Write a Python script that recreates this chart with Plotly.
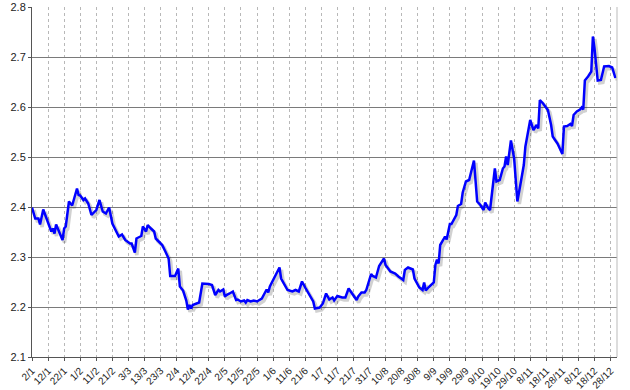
import pandas as pd
import plotly.graph_objects as go

# Day offsets from 2 January and the matching values
day_offsets = [0, 2, 4, 5, 7, 10, 12, 13, 14, 15, 17, 19, 20, 21, 23, 25, 28, 29, 30, 32,
               33, 35, 37, 40, 42, 44, 46, 48, 50, 54, 56, 58, 61, 62, 64, 65, 68, 69, 71, 72,
               74, 76, 77, 79, 81, 83, 85, 86, 89, 91, 92, 94, 96, 97, 98, 99, 100, 104, 106, 110,
               112, 114, 116, 117, 119, 120, 121, 123, 125, 127, 128, 130, 132, 133, 134, 136, 138, 140, 142, 143,
               146, 147, 148, 150, 152, 154, 155, 157, 159, 162, 164, 166, 168, 170, 172, 175, 176, 179, 181, 183,
               185, 187, 188, 190, 193, 195, 197, 199, 202, 203, 205, 207, 208, 211, 212, 214, 216, 219, 220, 223,
               226, 228, 231, 232, 234, 237, 238, 241, 243, 244, 245, 247, 250, 251, 252, 253, 254, 256, 257, 258,
               260, 261, 264, 265, 267, 268, 270, 272, 275, 277, 279, 281, 282, 284, 285, 288, 289, 291, 293, 294,
               295, 296, 298, 300, 302, 304, 306, 307, 308, 310, 312, 314, 315, 316, 318, 321, 323, 324, 327, 330,
               331, 333, 335, 336, 337, 339, 341, 342, 343, 344, 346, 348, 349, 350, 352, 354, 356, 359, 361, 363]
values = [2.399, 2.377, 2.377, 2.365, 2.395, 2.367, 2.351, 2.357, 2.347, 2.365, 2.351, 2.334, 2.357, 2.361, 2.411, 2.403, 2.437, 2.424, 2.423, 2.414,
          2.417, 2.407, 2.384, 2.394, 2.414, 2.391, 2.387, 2.399, 2.367, 2.341, 2.345, 2.334, 2.327, 2.327, 2.309, 2.337, 2.342, 2.361, 2.351, 2.364,
          2.357, 2.351, 2.337, 2.331, 2.324, 2.311, 2.297, 2.262, 2.262, 2.277, 2.241, 2.233, 2.213, 2.195, 2.204, 2.197, 2.204, 2.209, 2.247, 2.246,
          2.244, 2.224, 2.234, 2.231, 2.235, 2.221, 2.224, 2.227, 2.231, 2.214, 2.215, 2.211, 2.213, 2.209, 2.214, 2.211, 2.213, 2.211, 2.215, 2.217,
          2.235, 2.229, 2.241, 2.254, 2.264, 2.279, 2.257, 2.244, 2.234, 2.231, 2.234, 2.231, 2.251, 2.239, 2.227, 2.211, 2.197, 2.199, 2.207, 2.227,
          2.215, 2.219, 2.213, 2.222, 2.219, 2.219, 2.237, 2.227, 2.214, 2.221, 2.229, 2.229, 2.234, 2.266, 2.262, 2.259, 2.282, 2.297, 2.284, 2.271,
          2.267, 2.261, 2.254, 2.274, 2.279, 2.275, 2.257, 2.239, 2.234, 2.249, 2.233, 2.240, 2.249, 2.284, 2.295, 2.287, 2.324, 2.335, 2.341, 2.335,
          2.366, 2.366, 2.384, 2.402, 2.406, 2.429, 2.451, 2.454, 2.493, 2.411, 2.404, 2.394, 2.409, 2.397, 2.394, 2.477, 2.451, 2.454, 2.477, 2.481,
          2.501, 2.484, 2.533, 2.497, 2.411, 2.447, 2.484, 2.521, 2.537, 2.574, 2.554, 2.564, 2.557, 2.614, 2.607, 2.594, 2.564, 2.541, 2.527, 2.506,
          2.561, 2.562, 2.566, 2.562, 2.584, 2.591, 2.595, 2.599, 2.595, 2.653, 2.661, 2.671, 2.741, 2.717, 2.653, 2.654, 2.681, 2.682, 2.679, 2.658]

start = pd.Timestamp("2015-01-02")
dates = [start + pd.Timedelta(days=d) for d in day_offsets]

tick_dates = list(pd.date_range(start, periods=37, freq="10D"))
tick_labels = [f"{d.day}/{d.month}" for d in tick_dates]
y_ticks = [2.1, 2.2, 2.3, 2.4, 2.5, 2.6, 2.7, 2.8]

fig = go.Figure()
# soft shadow
fig.add_trace(go.Scatter(
    x=[d + pd.Timedelta(hours=30) for d in dates], y=[v - 0.005 for v in values],
    mode="lines", line=dict(color="rgba(0,0,0,0.18)", width=3.5),
    hoverinfo="skip", showlegend=False))
fig.add_trace(go.Scatter(
    x=dates, y=values, mode="lines",
    line=dict(color="#0000FF", width=2.5), showlegend=False))

fig.update_layout(
    width=630, height=390,
    margin=dict(l=32, r=13, t=7, b=33),
    paper_bgcolor="white", plot_bgcolor="white",
    font=dict(family="Liberation Sans, Arial, sans-serif", size=11, color="#222"),
    xaxis=dict(
        range=[start, start + pd.Timedelta(days=364)],
        tickmode="array", tickvals=tick_dates, ticktext=tick_labels,
        tickangle=-45, tickfont=dict(size=10), automargin=False,
        showgrid=True, gridcolor="#b8b8b8", griddash="dot", gridwidth=1,
        showline=True, linecolor="#555", linewidth=1,
        ticks="outside", ticklen=3, tickcolor="#555", zeroline=False,
    ),
    yaxis=dict(
        range=[2.1, 2.8], tickmode="array", tickvals=y_ticks,
        ticktext=[f"{v:.1f}" for v in y_ticks], tickfont=dict(size=11),
        automargin=False,
        showgrid=True, gridcolor="#7a7a7a", gridwidth=1,
        showline=True, linecolor="#555", linewidth=1,
        ticks="outside", ticklen=3, tickcolor="#555", zeroline=False,
    ),
    shapes=[dict(type="line", xref="paper", yref="paper", x0=1, x1=1, y0=0, y1=1,
                 line=dict(color="#bbbbbb", width=1))],
)

fig.write_html("out.html", config={"displayModeBar": False},
               post_script="document.body.style.margin='0';document.body.style.overflow='hidden';")
